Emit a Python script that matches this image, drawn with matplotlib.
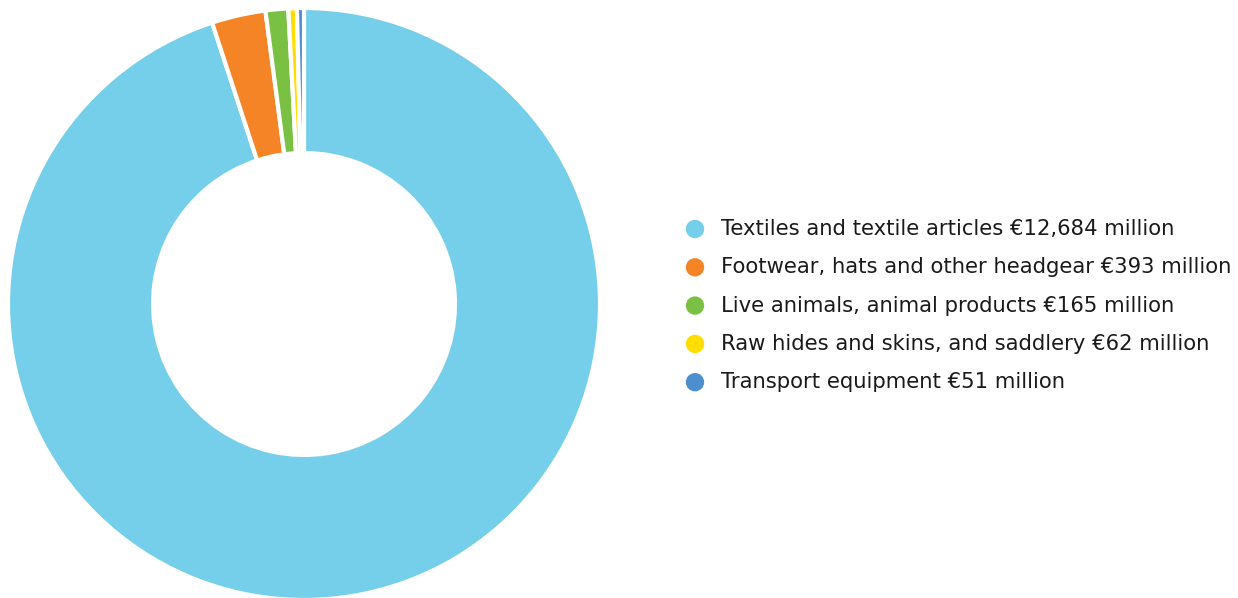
import matplotlib
matplotlib.use("Agg")
import matplotlib.pyplot as plt

categories = ["Textiles and textile articles", "Footwear, hats and other headgear",
              "Live animals, animal products", "Raw hides and skins, and saddlery",
              "Transport equipment"]
values = [12684, 393, 165, 62, 51]
colors = ["#75CEEA", "#F58426", "#7AC143", "#FFDD00", "#4D8FCC"]

W, H = 1238, 598
fig = plt.figure(figsize=(W / 100, H / 100), dpi=100)

# donut
cx, cy, r = 304, 304, 296
ax = fig.add_axes([(cx - r) / W, (H - cy - r) / H, 2 * r / W, 2 * r / H])
ax.pie(values, colors=colors, startangle=90, counterclock=False, radius=1,
       wedgeprops=dict(width=0.49, edgecolor="white", linewidth=3))
ax.set_xlim(-1, 1)
ax.set_ylim(-1, 1)
ax.set_aspect("equal")
ax.axis("off")

# legend drawn in pixel coords
lax = fig.add_axes([0, 0, 1, 1])
lax.set_xlim(0, W)
lax.set_ylim(H, 0)
lax.axis("off")
y0, dy = 229, 38.3
for i, (lab, val, col) in enumerate(zip(categories, values, colors)):
    y = y0 + i * dy
    lax.scatter([695], [y], s=175, color=col, edgecolors="none")
    lax.text(721, y, f"{lab} €{val:,} million", fontsize=15.2, family="DejaVu Sans",
             color="#1a1a1a", va="center", ha="left")

fig.savefig("out.png", dpi=100)
